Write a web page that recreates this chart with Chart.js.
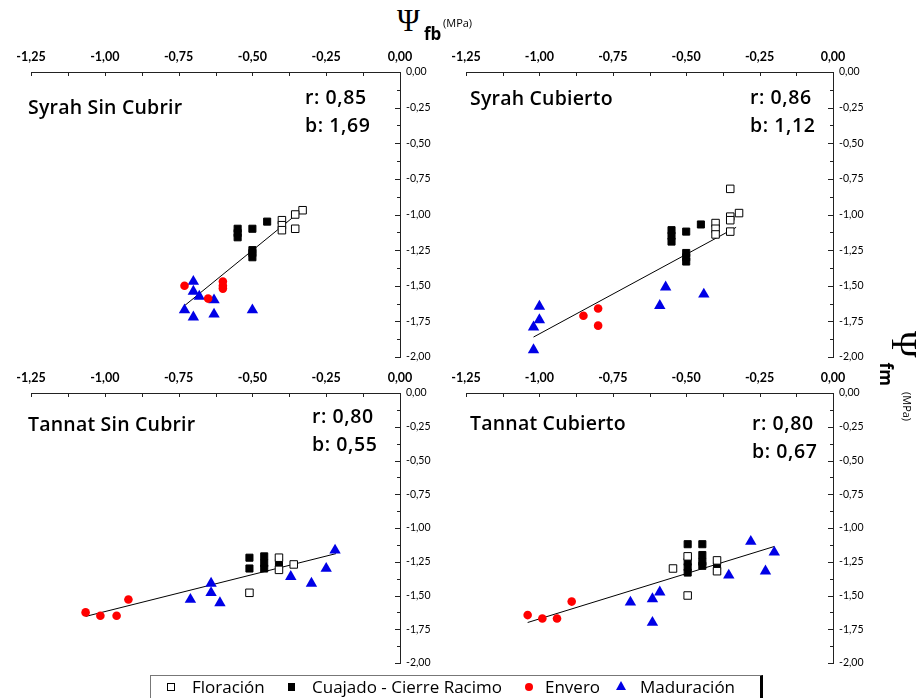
<!DOCTYPE html>
<html>
<head>
<meta charset="utf-8">
<script src="https://cdn.jsdelivr.net/npm/chart.js@4.4.0/dist/chart.umd.min.js"></script>
<style>
  body { margin: 0; background: #fff; }
  #page { position: relative; width: 921px; height: 698px; overflow: hidden; font-family: 'Open Sans', sans-serif; color: #000; }
  canvas { position: absolute; }
  .txt { position: absolute; white-space: nowrap; line-height: 1; z-index: 2; }
  .ttl { font-weight: 600; font-size: 19.5px; letter-spacing: 0.2px; }
  .val { font-weight: 600; font-size: 19.5px; letter-spacing: 0.6px; }
  .psi { font-family: 'Liberation Serif', serif; }
  #legend { position: absolute; left: 150px; top: 675px; width: 609px; height: 22px; border: 1px solid #777; border-right: 3px solid #000; font-size: 17px; }
  #legend .it { position: absolute; top: 0; line-height: 22px; }
  .sym { position: absolute; }
</style>
</head>
<body>
<div id="page">
  <canvas id="c1"></canvas>
  <canvas id="c2"></canvas>
  <canvas id="c3"></canvas>
  <canvas id="c4"></canvas>

  <div class="txt psi" style="left:397px;top:5px;font-size:31px;">Ψ</div>
  <div class="txt" style="left:424px;top:25px;font-size:17px;font-weight:700;">fb</div>
  <div class="txt" style="left:443px;top:17px;font-size:11px;">(MPa)</div>

  <div class="txt" style="left:922px;top:331px;transform:rotate(90deg);transform-origin:0 0;height:36px;">
    <span class="psi" style="font-size:36px;">Ψ</span><span style="font-size:17px;font-weight:700;position:relative;top:12px;margin-left:5px;">fm</span>
    <span style="font-size:11px;position:relative;top:-11px;margin-left:2px;">(MPa)</span>
  </div>

  <div class="txt ttl" style="left:28px;top:97px;">Syrah Sin Cubrir</div>
  <div class="txt val" style="left:305px;top:87px;">r: 0,85</div>
  <div class="txt val" style="left:305px;top:115px;">b: 1,69</div>

  <div class="txt ttl" style="left:470px;top:88px;">Syrah Cubierto</div>
  <div class="txt val" style="left:750px;top:87px;">r: 0,86</div>
  <div class="txt val" style="left:750px;top:115px;">b: 1,12</div>

  <div class="txt ttl" style="left:28px;top:414px;">Tannat Sin Cubrir</div>
  <div class="txt val" style="left:312px;top:406px;">r: 0,80</div>
  <div class="txt val" style="left:312px;top:434px;">b: 0,55</div>

  <div class="txt ttl" style="left:470px;top:413px;">Tannat Cubierto</div>
  <div class="txt val" style="left:752px;top:413px;">r: 0,80</div>
  <div class="txt val" style="left:752px;top:441px;">b: 0,67</div>

  <div id="legend">
    <span class="sym" style="left:16px;top:7px;width:6px;height:6px;border:1px solid #000;background:#fff;"></span>
    <span class="it" style="left:41px;">Floración</span>
    <span class="sym" style="left:137px;top:7px;width:7px;height:8px;background:#000;"></span>
    <span class="it" style="left:161px;">Cuajado - Cierre Racimo</span>
    <span class="sym" style="left:374px;top:7px;width:8px;height:8px;border-radius:50%;background:#f00;"></span>
    <span class="it" style="left:394px;">Envero</span>
    <span class="sym" style="left:465px;top:5px;width:0;height:0;border-left:5px solid transparent;border-right:5px solid transparent;border-bottom:9px solid #0000e6;"></span>
    <span class="it" style="left:489px;">Maduración</span>
  </div>
</div>

<script>
// Syrah sin cubrir: [Ψfb, Ψfm] en MPa
const ssFloracion = [[-0.33, -0.97], [-0.355, -1.00], [-0.355, -1.10], [-0.40, -1.04], [-0.40, -1.075], [-0.40, -1.11]];
const ssCuajado = [[-0.55, -1.10], [-0.55, -1.13], [-0.55, -1.16], [-0.50, -1.10], [-0.45, -1.05], [-0.50, -1.25], [-0.50, -1.27], [-0.50, -1.30]];
const ssEnvero = [[-0.73, -1.50], [-0.60, -1.47], [-0.60, -1.50], [-0.60, -1.52], [-0.65, -1.59]];
const ssMaduracion = [[-0.70, -1.47], [-0.70, -1.54], [-0.68, -1.575], [-0.63, -1.60], [-0.73, -1.67], [-0.70, -1.72], [-0.63, -1.70], [-0.50, -1.67]];
const ssRecta = [[-0.73, -1.64], [-0.33, -0.965]];

// Syrah cubierto
const scFloracion = [[-0.35, -0.82], [-0.32, -0.99], [-0.35, -1.015], [-0.35, -1.04], [-0.35, -1.12], [-0.40, -1.06], [-0.40, -1.10], [-0.40, -1.14]];
const scCuajado = [[-0.55, -1.11], [-0.55, -1.15], [-0.55, -1.19], [-0.50, -1.12], [-0.45, -1.07], [-0.50, -1.27], [-0.50, -1.30], [-0.50, -1.33]];
const scEnvero = [[-0.85, -1.71], [-0.80, -1.66], [-0.80, -1.78]];
const scMaduracion = [[-1.00, -1.645], [-1.00, -1.74], [-1.02, -1.79], [-1.02, -1.95], [-0.57, -1.51], [-0.59, -1.64], [-0.44, -1.56]];
const scRecta = [[-1.02, -1.86], [-0.33, -1.09]];

// Tannat sin cubrir
const tsFloracion = [[-0.51, -1.48], [-0.41, -1.22], [-0.41, -1.31], [-0.36, -1.27]];
const tsCuajado = [[-0.51, -1.22], [-0.51, -1.30], [-0.46, -1.21], [-0.46, -1.26], [-0.46, -1.30], [-0.41, -1.26]];
const tsEnvero = [[-1.065, -1.625], [-1.015, -1.65], [-0.96, -1.65], [-0.92, -1.53]];
const tsMaduracion = [[-0.64, -1.41], [-0.64, -1.48], [-0.71, -1.53], [-0.61, -1.555], [-0.37, -1.36], [-0.30, -1.41], [-0.25, -1.30], [-0.22, -1.165]];
const tsRecta = [[-1.065, -1.655], [-0.217, -1.19]];

// Tannat cubierto
const tcFloracion = [[-0.545, -1.30], [-0.495, -1.50], [-0.495, -1.21], [-0.395, -1.24], [-0.395, -1.32]];
const tcCuajado = [[-0.495, -1.12], [-0.445, -1.12], [-0.495, -1.25], [-0.495, -1.29], [-0.495, -1.33], [-0.445, -1.20], [-0.445, -1.25], [-0.445, -1.28], [-0.395, -1.28]];
const tcEnvero = [[-1.04, -1.645], [-0.99, -1.67], [-0.94, -1.67], [-0.89, -1.545]];
const tcMaduracion = [[-0.69, -1.55], [-0.615, -1.525], [-0.59, -1.475], [-0.615, -1.70], [-0.355, -1.35], [-0.28, -1.10], [-0.20, -1.18], [-0.23, -1.32]];
const tcRecta = [[-1.04, -1.70], [-0.20, -1.137]];

const xTicks = { min: -1.25, max: 0, step: 0.25 };
const yTicks = { min: -2, max: 0, step: 0.25 };

const pts = arr => arr.map(([x, y]) => ({ x, y }));
const fmt = v => (Math.abs(v) < 1e-9 ? 0 : v).toFixed(2).replace('.', ',');

// marcas de escala hacia adentro, con subdivisiones
const innerTicks = {
  id: 'innerTicks',
  afterDraw(chart) {
    const { ctx, chartArea: a, scales: { x, y } } = chart;
    ctx.save();
    ctx.strokeStyle = '#222';
    ctx.lineWidth = 1;
    ctx.beginPath();
    for (let v = xTicks.min; v <= xTicks.max + 1e-9; v += xTicks.step / 2) {
      const px = Math.round(x.getPixelForValue(v)) + 0.5;
      ctx.moveTo(px, a.top);
      ctx.lineTo(px, a.top + 4);
    }
    let i = 0;
    for (let v = yTicks.min; v <= yTicks.max + 1e-9; v += yTicks.step / 2, i++) {
      const py = Math.round(y.getPixelForValue(v)) + 0.5;
      ctx.moveTo(a.right, py);
      ctx.lineTo(a.right - (i % 2 ? 3 : 5), py);
    }
    ctx.stroke();
    ctx.restore();
  }
};

function makePanel(id, area, flor, cuaj, env, mad, recta) {
  const [L, T, R, B] = area;
  const padL = 34, axTop = 34, axRight = 46, padB = 14;
  const cv = document.getElementById(id);
  cv.width = R - L + padL + axRight;
  cv.height = B - T + axTop + padB;
  cv.style.left = (L - padL) + 'px';
  cv.style.top = (T - axTop) + 'px';

  new Chart(cv, {
    type: 'scatter',
    data: {
      datasets: [
        { label: 'Floración', data: pts(flor), pointStyle: 'rect', pointRadius: 5.3, backgroundColor: '#fff', borderColor: '#000', borderWidth: 1 },
        { label: 'Cuajado - Cierre Racimo', data: pts(cuaj), pointStyle: 'rect', pointRadius: 5, backgroundColor: '#000', borderColor: '#000', borderWidth: 1 },
        { label: 'Envero', data: pts(env), pointStyle: 'circle', pointRadius: 4.3, backgroundColor: '#f00', borderColor: '#f00', borderWidth: 0 },
        { label: 'Maduración', data: pts(mad), pointStyle: 'triangle', pointRadius: 6.6, backgroundColor: '#0000e6', borderColor: '#0000e6', borderWidth: 0 },
        { label: 'recta', data: pts(recta), showLine: true, pointRadius: 0, borderColor: '#000', borderWidth: 1 }
      ]
    },
    options: {
      responsive: false,
      animation: false,
      devicePixelRatio: 1,
      layout: { padding: { left: padL, top: 0, right: 0, bottom: padB } },
      plugins: { legend: { display: false }, tooltip: { enabled: false } },
      scales: {
        x: {
          type: 'linear', position: 'top', min: xTicks.min, max: xTicks.max,
          afterFit: s => { s.height = axTop; },
          grid: { drawOnChartArea: false, drawTicks: false },
          border: { color: '#222', width: 1 },
          ticks: { stepSize: xTicks.step, padding: 8, color: '#000', font: { family: 'Lato', size: 12.5, weight: 'bold' }, callback: fmt }
        },
        y: {
          type: 'linear', position: 'right', min: yTicks.min, max: yTicks.max,
          afterFit: s => { s.width = axRight; },
          grid: { drawOnChartArea: false, drawTicks: false },
          border: { color: '#222', width: 1 },
          ticks: { stepSize: yTicks.step, padding: 6, color: '#000', font: { family: 'Lato', size: 10.5 }, callback: fmt }
        }
      }
    },
    plugins: [innerTicks]
  });
}

makePanel('c1', [31, 72, 400, 357], ssFloracion, ssCuajado, ssEnvero, ssMaduracion, ssRecta);
makePanel('c2', [466, 72, 833, 357], scFloracion, scCuajado, scEnvero, scMaduracion, scRecta);
makePanel('c3', [31, 393, 400, 663], tsFloracion, tsCuajado, tsEnvero, tsMaduracion, tsRecta);
makePanel('c4', [466, 393, 833, 663], tcFloracion, tcCuajado, tcEnvero, tcMaduracion, tcRecta);
</script>
</body>
</html>
